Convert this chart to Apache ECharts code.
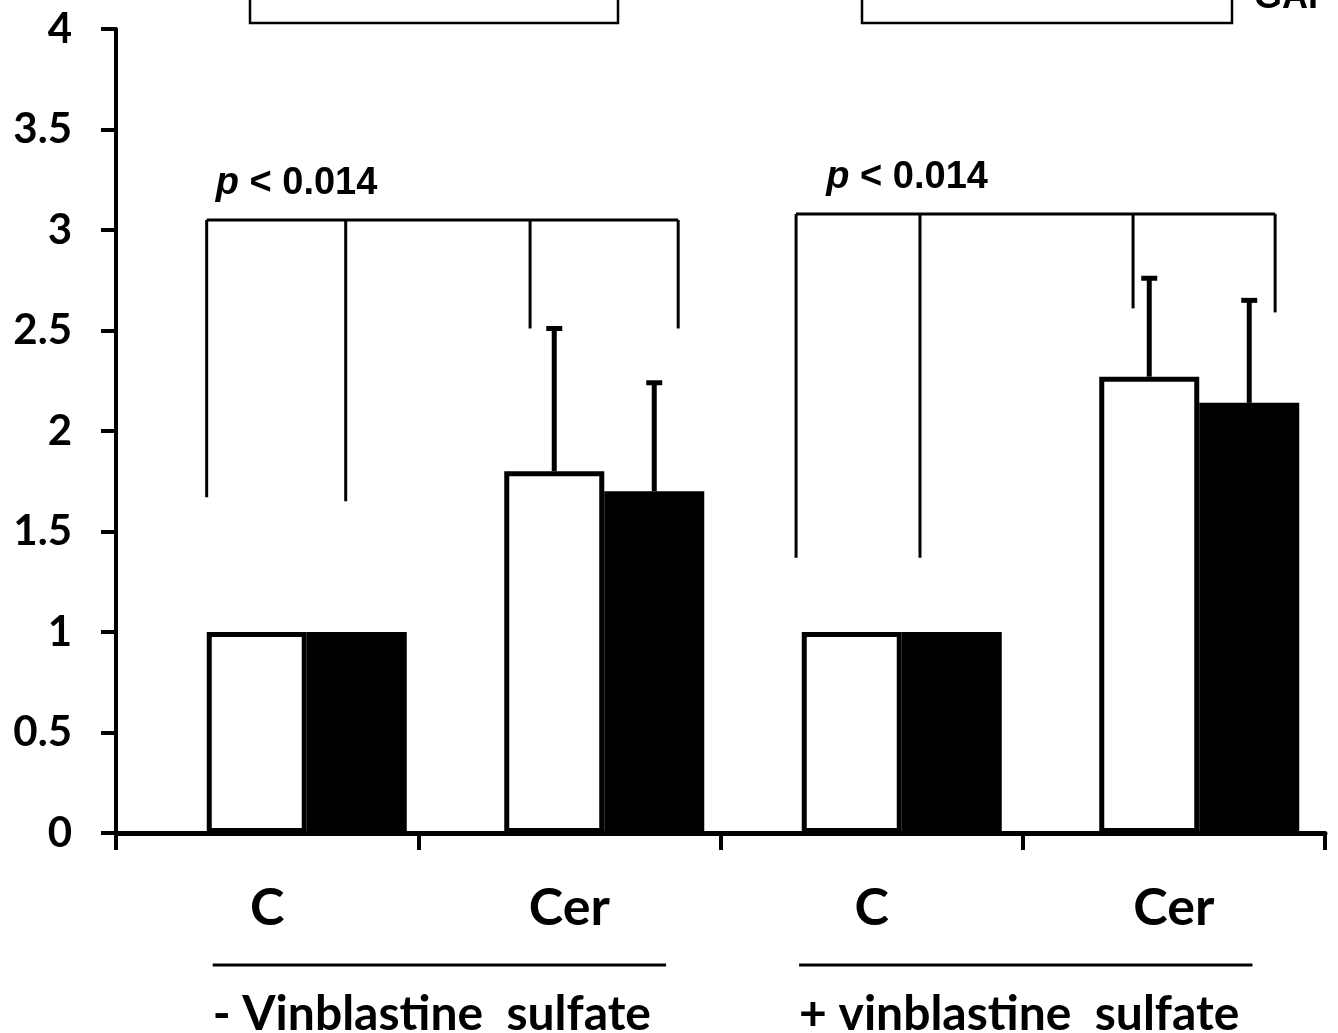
<!DOCTYPE html>
<html>
<head>
<meta charset="utf-8">
<script src="https://cdn.jsdelivr.net/npm/echarts@6/dist/echarts.min.js"></script>
<style>
  html, body { margin: 0; padding: 0; background: #fff; }
  #chart { width: 1338px; height: 1033px; }
</style>
</head>
<body>
<div id="chart"></div>
<script>
// Category labels on the x axis and the treatment groups underneath
const categories = ['C', 'Cer', 'C', 'Cer'];
const groupLabels = ['- Vinblastine  sulfate', '+ vinblastine  sulfate'];

// Bar heights (relative level) and upper end of the error bars
const whiteValues = [1, 1.8, 1, 2.27];
const blackValues = [1, 1.7, 1, 2.14];
const whiteErrorTop = [null, 2.51, null, 2.76];
const blackErrorTop = [null, 2.24, null, 2.65];

// Y axis scale
const yMin = 0, yMax = 4, yStep = 0.5;

// Significance brackets: legs given as [x, lower end] on a 0..4 axis spanning the four categories
const pText = 'p < 0.014';
const brackets = [
  { top: 3.05, labelX: 0.33, labelY: 3.23, legs: [[0.30, 1.67], [0.76, 1.65], [1.37, 2.51], [1.86, 2.51]] },
  { top: 3.08, labelX: 2.35, labelY: 3.26, legs: [[2.25, 1.37], [2.66, 1.37], [3.365, 2.61], [3.835, 2.59]] }
];
// Treatment group underline spans on the same 0..4 axis
const groupSpans = [[0.32, 1.82], [2.26, 3.76]];

const BAR_W = 100;
const INK = '#000';
const LABEL_FONT = 'Lato';

const chart = echarts.init(document.getElementById('chart'));

function errorBarRenderer(side) {
  return function (params, api) {
    const idx = api.value(0);
    const pTop = api.coord([idx, api.value(1)]);
    const pBase = api.coord([idx, api.value(2)]);
    const x = pTop[0] + side * BAR_W / 2;
    return {
      type: 'group',
      children: [
        { type: 'line', shape: { x1: x, y1: pBase[1], x2: x, y2: pTop[1] }, style: { stroke: INK, lineWidth: 5 } },
        { type: 'line', shape: { x1: x - 8, y1: pTop[1], x2: x + 8, y2: pTop[1] }, style: { stroke: INK, lineWidth: 5 } }
      ]
    };
  };
}

function errorData(tops, vals) {
  const out = [];
  tops.forEach((t, i) => { if (t != null) out.push([i, t, vals[i]]); });
  return out;
}

const option = {
  animation: false,
  backgroundColor: '#fff',
  grid: [
    { left: 116, right: 13, top: 29, bottom: 200, outerBoundsMode: 'none', containLabel: false },
    { left: 158, width: 1190, top: 29, bottom: 200, outerBoundsMode: 'none', containLabel: false }
  ],
  xAxis: [
    {
      type: 'category', gridIndex: 0, data: categories,
      axisLine: { lineStyle: { color: INK, width: 5 } },
      axisTick: { show: true, inside: false, length: 17, lineStyle: { color: INK, width: 4 } },
      axisLabel: { color: INK, fontFamily: LABEL_FONT, fontWeight: 'bold', fontSize: 52, margin: 49 },
      splitLine: { show: false }
    },
    { type: 'category', gridIndex: 1, data: categories, show: false },
    { type: 'value', gridIndex: 0, min: 0, max: 4, show: false }
  ],
  yAxis: [
    {
      type: 'value', gridIndex: 0, min: yMin, max: yMax, interval: yStep,
      axisLine: { show: true, lineStyle: { color: INK, width: 4 } },
      axisTick: { show: true, inside: false, length: 15, lineStyle: { color: INK, width: 4 } },
      axisLabel: { color: INK, fontFamily: LABEL_FONT, fontWeight: 'bold', fontSize: 42, margin: 44 },
      splitLine: { show: false }
    },
    { type: 'value', gridIndex: 1, min: yMin, max: yMax, interval: yStep, show: false }
  ],
  series: [
    {
      type: 'bar', xAxisIndex: 1, yAxisIndex: 1, data: whiteValues,
      barWidth: BAR_W, barGap: '0%',
      itemStyle: { color: '#fff', borderColor: INK, borderWidth: 5 }
    },
    {
      type: 'bar', xAxisIndex: 1, yAxisIndex: 1, data: blackValues,
      barWidth: BAR_W, barGap: '0%',
      itemStyle: { color: INK, borderColor: INK, borderWidth: 5 }
    },
    {
      type: 'custom', xAxisIndex: 1, yAxisIndex: 1, clip: false, z: 3,
      renderItem: errorBarRenderer(-1), data: errorData(whiteErrorTop, whiteValues)
    },
    {
      type: 'custom', xAxisIndex: 1, yAxisIndex: 1, clip: false, z: 3,
      renderItem: errorBarRenderer(1), data: errorData(blackErrorTop, blackValues)
    },
    {
      // significance brackets with p-value text
      type: 'custom', xAxisIndex: 2, yAxisIndex: 0, clip: false, z: 4,
      data: brackets.map(b => [b.labelX, b.top]),
      renderItem: function (params, api) {
        const b = brackets[params.dataIndex];
        const yTop = api.coord([0, b.top])[1];
        const pts = b.legs.map(l => api.coord([l[0], l[1]]));
        const children = [
          { type: 'line', shape: { x1: pts[0][0], y1: yTop, x2: pts[pts.length - 1][0], y2: yTop }, style: { stroke: INK, lineWidth: 3 } }
        ];
        pts.forEach(p => {
          children.push({ type: 'line', shape: { x1: p[0], y1: yTop, x2: p[0], y2: p[1] }, style: { stroke: INK, lineWidth: 3 } });
        });
        const lp = api.coord([b.labelX, b.labelY]);
        const rest = pText.slice(1);
        children.push({
          type: 'text', x: lp[0], y: lp[1],
          style: {
            text: '{i|' + pText.charAt(0) + '}' + rest,
            rich: { i: { fontStyle: 'italic', fontWeight: 'bold', fontSize: 38, fontFamily: 'Liberation Sans', fill: INK } },
            fontWeight: 'bold', fontSize: 38, fontFamily: 'Liberation Sans', fill: INK,
            verticalAlign: 'middle', align: 'left'
          }
        });
        return { type: 'group', children: children };
      }
    },
    {
      // treatment group underline and caption
      type: 'custom', xAxisIndex: 2, yAxisIndex: 0, clip: false, z: 4,
      data: groupSpans.map(s => [s[0], 0]),
      renderItem: function (params, api) {
        const s = groupSpans[params.dataIndex];
        const a = api.coord([s[0], 0]);
        const c = api.coord([s[1], 0]);
        const yLine = a[1] + 132;
        return {
          type: 'group',
          children: [
            { type: 'line', shape: { x1: a[0], y1: yLine, x2: c[0], y2: yLine }, style: { stroke: INK, lineWidth: 3 } },
            {
              type: 'text', x: a[0], y: yLine + 50,
              style: {
                text: groupLabels[params.dataIndex], fill: INK,
                fontFamily: LABEL_FONT, fontWeight: 'bold', fontSize: 48,
                align: 'left', verticalAlign: 'middle'
              }
            }
          ]
        };
      }
    }
  ],
  graphic: [
    { type: 'rect', shape: { x: 250, y: -60, width: 368, height: 83 }, style: { fill: 'none', stroke: INK, lineWidth: 2.5 } },
    { type: 'rect', shape: { x: 862, y: -60, width: 370, height: 83 }, style: { fill: 'none', stroke: INK, lineWidth: 2.5 } },
    { type: 'text', x: 1254, y: 16, style: { text: 'GAP', fill: INK, fontFamily: 'Liberation Sans', fontWeight: 'bold', fontSize: 36, verticalAlign: 'bottom', align: 'left' } }
  ]
};

chart.setOption(option);
</script>
</body>
</html>
